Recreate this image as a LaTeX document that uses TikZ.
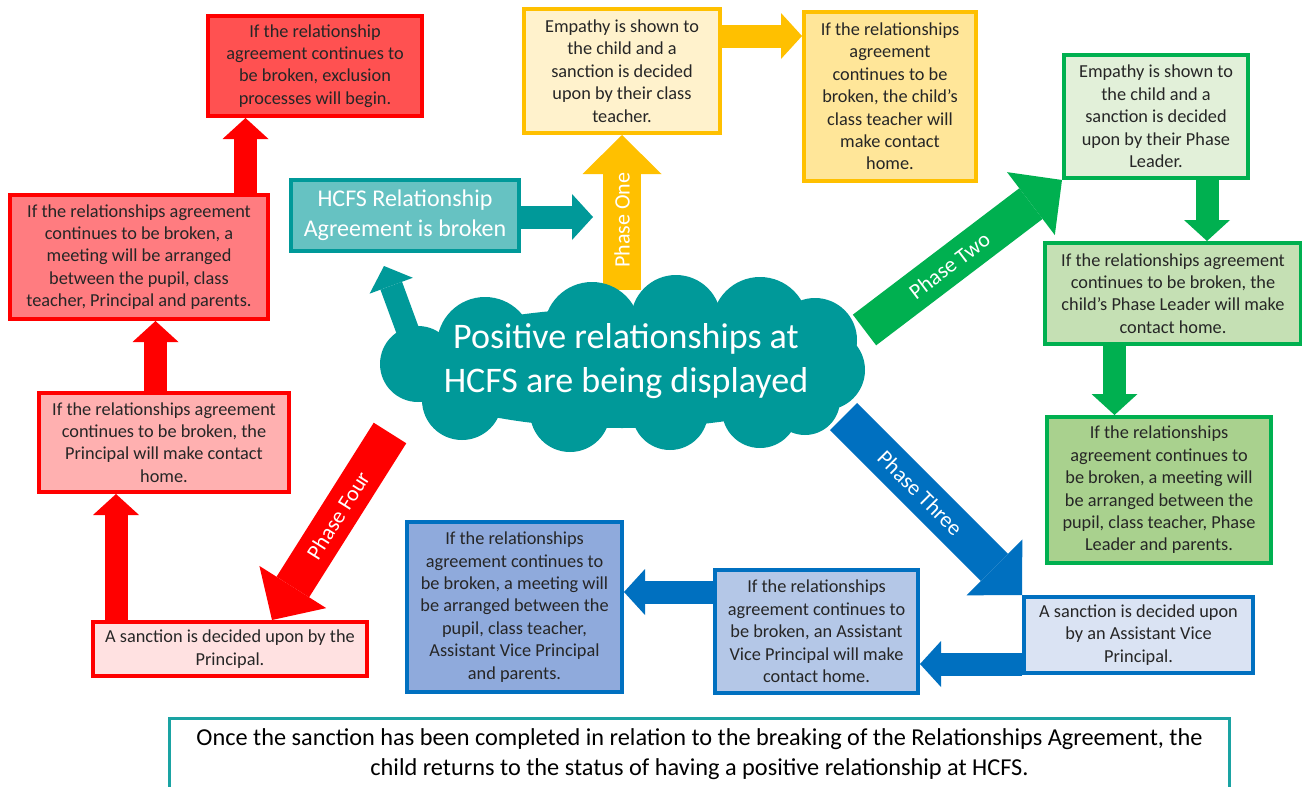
\documentclass[tikz,border=0pt]{standalone}
\usepackage{fontspec}
\setmainfont{Carlito}
\usetikzlibrary{arrows.meta,calc}
\definecolor{cTeal}{HTML}{009999}
\definecolor{cTealL}{HTML}{66C2C2}
\definecolor{cTealB}{HTML}{1AA3A3}
\definecolor{cRed}{HTML}{FF0000}
\definecolor{cRedA}{HTML}{FF5151}
\definecolor{cRedB}{HTML}{FF7C80}
\definecolor{cRedC}{HTML}{FFB0B0}
\definecolor{cRedD}{HTML}{FFE1E1}
\definecolor{cYel}{HTML}{FFC000}
\definecolor{cYelA}{HTML}{FFF2CC}
\definecolor{cYelB}{HTML}{FFE699}
\definecolor{cGrn}{HTML}{00B050}
\definecolor{cGrnA}{HTML}{E2F0D9}
\definecolor{cGrnB}{HTML}{C5E0B4}
\definecolor{cGrnC}{HTML}{A9D18E}
\definecolor{cBlu}{HTML}{0070C0}
\definecolor{cBluA}{HTML}{DAE3F3}
\definecolor{cBluB}{HTML}{B4C7E7}
\definecolor{cBluC}{HTML}{8FAADC}
\definecolor{cTxt}{HTML}{262626}
\pgfdeclarelayer{back}
\pgfdeclarelayer{bg}
\pgfdeclarelayer{mid}
\pgfsetlayers{back,bg,mid,main}
\begin{document}
\begin{tikzpicture}[x=1pt,y=-1pt,
  box/.style={draw, line width=4pt, align=center, inner sep=0pt, text=cTxt,
    font=\fontsize{18.3}{22.4}\selectfont},
  sarrow/.style={line width=23pt, -{Triangle[width=46pt,length=21pt,line width=0pt]}},
  barrow/.style={line width=38.5pt, -{Triangle[width=79pt,length=39pt,line width=0pt]}},
  phase/.style={text=white, font=\fontsize{22}{26}\selectfont, sloped, inner sep=0pt},
  puff/.style={fill=cTeal}
]
\begin{pgfonlayer}{back}
\fill[white] (0,0) rectangle (1302,787);
\end{pgfonlayer}
\useasboundingbox (0,0) rectangle (1302,787);

% ---- boxes ----
\node[box, fill=cRedA, draw=cRed, minimum width=214pt, minimum height=100pt] (R1) at (315,66)
  {If the relationship\\agreement continues to\\be broken, exclusion\\processes will begin.};
\node[box, fill=cRedB, draw=cRed, minimum width=258pt, minimum height=124pt] (R2) at (139,257)
  {If the relationships agreement\\continues to be broken, a\\meeting will be arranged\\between the pupil, class\\teacher, Principal and parents.};
\node[box, fill=cRedC, draw=cRed, minimum width=250pt, minimum height=99pt] (R3) at (164,442.5)
  {If the relationships agreement\\continues to be broken, the\\Principal will make contact\\home.};
\node[box, fill=cRedD, draw=cRed, minimum width=274pt, minimum height=54pt] (R4) at (230,649)
  {A sanction is decided upon by the\\Principal.};
\node[box, fill=cTealL, draw=cTeal, text=white, font=\fontsize{24}{30}\selectfont,
  minimum width=228pt, minimum height=71pt] (HCFS) at (405,215.5)
  {HCFS Relationship\\Agreement is broken};
\node[box, fill=cYelA, draw=cYel, minimum width=196pt, minimum height=124pt] (Y1) at (622,71)
  {Empathy is shown to\\the child and a\\sanction is decided\\upon by their class\\teacher.};
\node[box, fill=cYelB, draw=cYel, minimum width=172pt, minimum height=169pt] (Y2) at (890,96.5)
  {If the relationships\\agreement\\continues to be\\broken, the child’s\\class teacher will\\make contact\\home.};
\node[box, fill=cGrnA, draw=cGrn, minimum width=184pt, minimum height=123pt] (G1) at (1156,116.5)
  {Empathy is shown to\\the child and a\\sanction is decided\\upon by their Phase\\Leader.};
\node[box, fill=cGrnB, draw=cGrn, minimum width=256pt, minimum height=101pt] (G2) at (1173,293.5)
  {If the relationships agreement\\continues to be broken, the\\child’s Phase Leader will make\\contact home.};
\node[box, fill=cGrnC, draw=cGrn, minimum width=224pt, minimum height=146pt] (G3) at (1159,490)
  {If the relationships\\agreement continues to\\be broken, a meeting will\\be arranged between the\\pupil, class teacher, Phase\\Leader and parents.};
\node[box, fill=cBluA, draw=cBlu, minimum width=229pt, minimum height=76pt] (B1) at (1138.5,635)
  {A sanction is decided upon\\by an Assistant Vice\\Principal.};
\node[box, fill=cBluB, draw=cBlu, minimum width=203pt, minimum height=123pt] (B2) at (816.5,631.5)
  {If the relationships\\agreement continues to\\be broken, an Assistant\\Vice Principal will make\\contact home.};
\node[box, fill=cBluC, draw=cBlu, minimum width=215pt, minimum height=170pt] (B3) at (514.5,607)
  {If the relationships\\agreement continues to\\be broken, a meeting will\\be arranged between the\\pupil, class teacher,\\Assistant Vice Principal\\and parents.};

% ---- cloud ----
\begin{pgfonlayer}{mid}
  \fill[puff] (622,368) ellipse [x radius=222, y radius=60];
  \foreach \cx/\cy/\r in {485/345/48, 592/330/48, 676/320/45, 760/325/48, 815/340/42,
      825/370/40, 805/400/35, 760/410/38, 670/412/38, 570/412/40, 462/400/40, 418/364/38}
    \fill[puff] (\cx,\cy) circle [radius=\r];
\end{pgfonlayer}
\node[text=white, align=center, font=\fontsize{36}{44}\selectfont, inner sep=0pt] (cloud) at (626,361)
  {Positive relationships at\\HCFS are being displayed};

% ---- arrow end points ----
\coordinate (tS) at (413,345);
\coordinate (tE) at (384,266);
\coordinate (p1S) at (622,290);
\coordinate (p1L) at (593,217);
\coordinate (p2S) at (864.5,330);
\coordinate (p3S) at (843.5,416.5);
\coordinate (p4S) at (390,433);

% ---- arrows ----
\begin{pgfonlayer}{bg}
  \draw[sarrow, draw=cTeal] (tS) -- (tE);
  \draw[sarrow, draw=cTeal] (HCFS.east |- p1L) -- (p1L);
  \draw[barrow, draw=cYel] (p1S) -- (Y1.south) node[pos=0.45, phase] {Phase One};
  \draw[sarrow, draw=cYel] (Y1.east |- 0,36) -- (Y2.west |- 0,36);
  \draw[barrow, draw=cGrn] (p2S) -- (G1.south west) node[pos=0.43, phase] {Phase Two};
  \draw[sarrow, draw=cGrn] (G1.south -| 1207,0) -- (G2.north -| 1207,0);
  \draw[sarrow, draw=cGrn] (G2.south -| 1114.5,0) -- (G3.north -| 1114.5,0);
  \draw[barrow, draw=cBlu] (p3S) -- (B1.north west) node[pos=0.43, phase] {Phase Three};
  \draw[sarrow, draw=cBlu] (B1.west |- 0,664) -- (B2.east |- 0,664);
  \draw[sarrow, draw=cBlu] (B2.west |- 0,592) -- (B3.east |- 0,592);
  \draw[barrow, draw=cRed] (p4S) -- (R4.north -| 272,0) node[pos=0.44, phase] {Phase Four};
  \draw[sarrow, draw=cRed] (R4.north -| 116,0) -- (R3.south -| 116,0);
  \draw[sarrow, draw=cRed] (R3.north -| 155.5,0) -- (R2.south -| 155.5,0);
  \draw[sarrow, draw=cRed] (R2.north -| 245.5,0) -- (R1.south -| 245.5,0);
\end{pgfonlayer}

% ---- note at the bottom ----
\draw[cTealB, line width=3pt] (169.5,790) -- (169.5,718.5) -- (1229.5,718.5) -- (1229.5,790);
\node[align=center, text=black, inner sep=0pt, font=\fontsize{24.3}{30}\selectfont] (note) at (699.5,754)
  {Once the sanction has been completed in relation to the breaking of the Relationships Agreement, the\\child returns to the status of having a positive relationship at HCFS.};
\end{tikzpicture}
\end{document}
